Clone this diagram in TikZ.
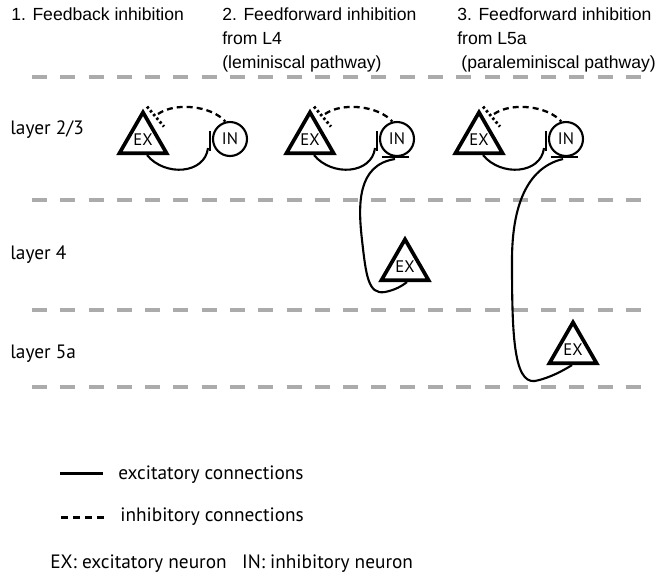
\documentclass[tikz,border=0pt]{standalone}
\usepackage{fontspec}
\setmainfont{Liberation Sans}
\newfontfamily\myriadlike{PT Sans}
\usetikzlibrary{shapes.geometric}

\tikzset{
	exneuron/.style={regular polygon, regular polygon sides=3, draw, line width=2.1pt,
		minimum size=1.06cm, inner sep=0pt, font=\myriadlike\fontsize{9.5}{9.5}\selectfont},
	inneuron/.style={circle, draw, line width=1.2pt, minimum size=0.68cm,
		inner sep=0pt, font=\myriadlike\fontsize{9.5}{9.5}\selectfont},
	exc/.style={line width=1.2pt},
	inh/.style={line width=1.3pt, dash pattern=on 3.4pt off 2.3pt},
	inhdots/.style={line width=1.6pt, dash pattern=on 1.4pt off 1.4pt},
	synbar/.style={line width=1.6pt},
	layerline/.style={line width=2pt, black!33, dash pattern=on 8.5pt off 7.6pt},
	title/.style={anchor=north west, inner sep=0pt, align=left,
		font=\fontsize{10}{13.7}\selectfont},
	layerlabel/.style={anchor=base west, inner sep=0pt,
		font=\myriadlike\fontsize{11}{13}\selectfont},
}

\begin{document}
\begin{tikzpicture}[x=0.02cm, y=-0.02cm]
	\useasboundingbox (0,0) rectangle (662,579);

	% headings
	\node[title] (t1) at (11,7.5)  {1. Feedback inhibition};
	\node[title] (t2) at (222,7.5) {2. Feedforward inhibition\\from L4\\(leminiscal pathway)};
	\node[title] (t3) at (457,7.5) {3. Feedforward inhibition\\from L5a\\\hspace*{2.3pt}(paraleminiscal pathway)};

	% layer borders
	\draw[layerline] (32,77)  -- (647,77);
	\draw[layerline] (32,200) -- (647,200);
	\draw[layerline] (32,310) -- (647,310);
	\draw[layerline] (32,387) -- (647,387);

	\node[layerlabel] (l23) at (10,134) {layer 2/3};
	\node[layerlabel] (l4)  at (10,259) {layer 4};
	\node[layerlabel] (l5a) at (10,358) {layer 5a};

	% neurons
	\node[exneuron] (ex1)  at (143,139.6) {EX};
	\node[inneuron] (in1)  at (230,139)   {IN};
	\node[exneuron] (ex2)  at (310,139.6) {EX};
	\node[inneuron] (in2)  at (397,139)   {IN};
	\node[exneuron] (ex3)  at (479,139.6) {EX};
	\node[inneuron] (in3)  at (566,139)   {IN};
	\node[exneuron] (exl4) at (405,266.6) {EX};
	\node[exneuron] (exl5) at (573,349.6) {EX};

	% 1. feedback
	\draw[synbar] ([shift={(-20,-8)}]in1.center) -- ([shift={(-20,12)}]in1.center);
	\draw[exc] ([shift={(4,0)}]ex1.south) .. controls +(18,22) and +(-3,26) .. ([shift={(-22,9)}]in1.center);
	\draw[inhdots] ([shift={(4,-33)}]ex1.center) -- ([shift={(21,-13)}]ex1.center);
	\draw[inh] ([shift={(15,-25.6)}]ex1.center) .. controls +(17,-12) and +(-14,-16) .. (in1.105);

	% 2. feedforward from L4
	\draw[synbar] ([shift={(-20,-8)}]in2.center) -- ([shift={(-20,12)}]in2.center);
	\draw[synbar] ([shift={(-15,18)}]in2.center) -- ([shift={(12,18)}]in2.center);
	\draw[exc] ([shift={(4,0)}]ex2.south) .. controls +(18,22) and +(-3,26) .. ([shift={(-22,9)}]in2.center);
	\draw[inhdots] ([shift={(4,-33)}]ex2.center) -- ([shift={(21,-13)}]ex2.center);
	\draw[inh] ([shift={(15,-25.6)}]ex2.center) .. controls +(17,-12) and +(-14,-16) .. (in2.105);
	\draw[exc] ([shift={(-2,20)}]in2.center) .. controls (357,165) and (358,205) .. (362,240)
		.. controls (366,275) and (368,295) .. (385,292)
		.. controls (395,290) and (402,286) .. ([shift={(2,0)}]exl4.south);

	% 3. feedforward from L5a
	\draw[synbar] ([shift={(-20,-8)}]in3.center) -- ([shift={(-20,12)}]in3.center);
	\draw[synbar] ([shift={(-15,18)}]in3.center) -- ([shift={(12,18)}]in3.center);
	\draw[exc] ([shift={(4,0)}]ex3.south) .. controls +(18,22) and +(-3,26) .. ([shift={(-22,9)}]in3.center);
	\draw[inhdots] ([shift={(4,-33)}]ex3.center) -- ([shift={(21,-13)}]ex3.center);
	\draw[inh] ([shift={(15,-25.6)}]ex3.center) .. controls +(17,-12) and +(-14,-16) .. (in3.105);
	\draw[exc] ([shift={(-3,20)}]in3.center) .. controls (525,168) and (512,210) .. (512,260)
		.. controls (512,330) and (513,384) .. (535,381)
		.. controls (550,378) and (564,370) .. ([shift={(-1,0)}]exl5.south);

	% legend
	\coordinate (exca) at (60,473);
	\coordinate (excb) at (103,473);
	\coordinate (inha) at (61,517);
	\coordinate (inhb) at (105,517);
	\draw[line width=1.7pt] (exca) -- (excb);
	\draw[line width=1.7pt, dash pattern=on 4pt off 2.85pt] (inha) -- (inhb);
	\node[layerlabel] (excl) at (118,479) {excitatory connections};
	\node[layerlabel] (inhl) at (120,521) {inhibitory connections};
	\node[layerlabel] (key)  at (50,568)  {EX:\ excitatory neuron\hspace{0.8em}IN:\ inhibitory neuron};
\end{tikzpicture}
\end{document}
